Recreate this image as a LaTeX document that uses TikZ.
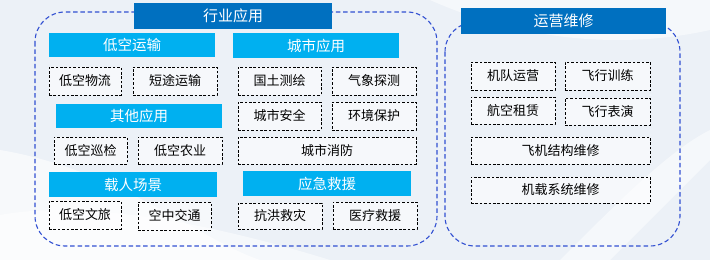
\documentclass[tikz,border=0pt]{standalone}
\usepackage{fontspec}
\setmainfont{Noto Sans CJK SC}
\definecolor{darkhdr}{RGB}{0,112,192}
\definecolor{lighthdr}{RGB}{0,176,240}
\definecolor{frameblue}{RGB}{50,80,210}
\definecolor{bgcol}{RGB}{236,241,247}
\tikzset{
  hdr/.style={fill=lighthdr, text=white, inner sep=0pt, font=\fontsize{14.5}{16}\selectfont},
  ttl/.style={fill=darkhdr, text=white, inner sep=0pt, font=\fontsize{15}{17}\selectfont},
  item/.style={draw=black, dash pattern=on 2.6pt off 1.8pt, line width=1pt, fill=white, fill opacity=0.55, text opacity=1, inner sep=0pt, font=\fontsize{13}{15}\selectfont},
  frame/.style={draw=frameblue, line width=1.1pt, dash pattern=on 4.5pt off 2.8pt, rounded corners=30pt},
}
\begin{document}
\begin{tikzpicture}[x=1pt,y=-1pt]
\useasboundingbox (0,0) rectangle (710,260);
% background
\fill[bgcol] (0,0) rectangle (710,260);
\fill[white, opacity=0.6] (0,150) .. controls (120,170) and (200,240) .. (260,260) -- (0,260) -- cycle;
\fill[white, opacity=0.5] (0,215) .. controls (80,200) and (200,220) .. (330,260) -- (0,260) -- cycle;
\fill[white, opacity=0.5] (560,260) .. controls (620,200) and (670,150) .. (710,130) -- (710,160) .. controls (680,190) and (640,230) .. (610,260) -- cycle;
\fill[white, opacity=0.5] (430,0) .. controls (520,40) and (620,50) .. (710,30) -- (710,0) -- cycle;
% frames
\draw[frame] (35,12) rectangle (437,246);
\draw[frame] (445,22) rectangle (680,246);
% titles
\node[ttl, minimum width=198pt, minimum height=26pt] (t1) at (233,16) {行业应用};
\node[ttl, minimum width=205pt, minimum height=26pt] (t2) at (563.5,21) {运营维修};
% headers
\node[hdr, minimum width=166pt, minimum height=24pt] (h1) at (132,45) {低空运输};
\node[hdr, minimum width=166pt, minimum height=25pt] (h2) at (316,45.5) {城市应用};
\node[hdr, minimum width=166pt, minimum height=24pt] (h3) at (139,116) {其他应用};
\node[hdr, minimum width=168pt, minimum height=25pt] (h4) at (133,184.5) {载人场景};
\node[hdr, minimum width=168pt, minimum height=25pt] (h5) at (327,183.5) {应急救援};
% items
\node[item, minimum width=72pt, minimum height=28pt] (i1) at (85,81) {低空物流};
\node[item, minimum width=84pt, minimum height=28pt] (i2) at (175,81) {短途运输};
\node[item, minimum width=83pt, minimum height=28pt] (i3) at (279.5,81) {国土测绘};
\node[item, minimum width=84pt, minimum height=28pt] (i4) at (374,81) {气象探测};
\node[item, minimum width=83pt, minimum height=28pt] (i5) at (279.5,116) {城市安全};
\node[item, minimum width=84pt, minimum height=28pt] (i6) at (374,116) {环境保护};
\node[item, minimum width=73pt, minimum height=27pt] (i7) at (90.5,150.5) {低空巡检};
\node[item, minimum width=84pt, minimum height=27pt] (i8) at (180,150.5) {低空农业};
\node[item, minimum width=178pt, minimum height=27pt] (i9) at (327,150.5) {城市消防};
\node[item, minimum width=72pt, minimum height=28pt] (i10) at (85,215) {低空文旅};
\node[item, minimum width=73pt, minimum height=28pt] (i11) at (174.5,216) {空中交通};
\node[item, minimum width=84pt, minimum height=26pt] (i12) at (280,216) {抗洪救灾};
\node[item, minimum width=84pt, minimum height=27pt] (i13) at (375,215.5) {医疗救援};
\node[item, minimum width=84pt, minimum height=28pt] (r1) at (513,76) {机队运营};
\node[item, minimum width=85pt, minimum height=28pt] (r2) at (607.5,76) {飞行训练};
\node[item, minimum width=84pt, minimum height=27pt] (r3) at (513,110.5) {航空租赁};
\node[item, minimum width=85pt, minimum height=27pt] (r4) at (607.5,111.5) {飞行表演};
\node[item, minimum width=179pt, minimum height=27pt] (r5) at (560.5,150.5) {飞机结构维修};
\node[item, minimum width=179pt, minimum height=26pt] (r6) at (560.5,190) {机载系统维修};
\end{tikzpicture}
\end{document}
